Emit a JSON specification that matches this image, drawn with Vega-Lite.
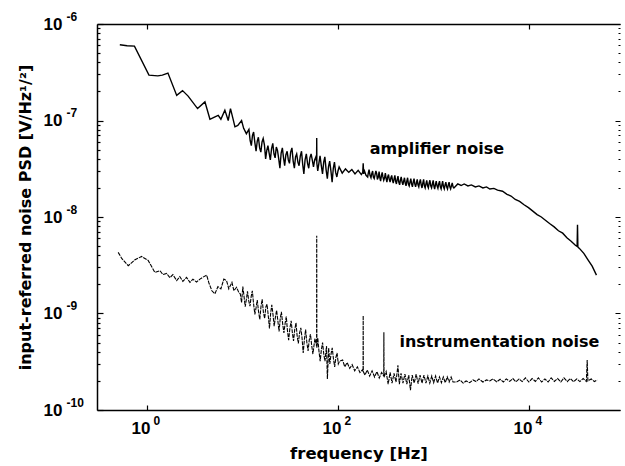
{
  "$schema": "https://vega.github.io/schema/vega-lite/v6.json",
  "width": 523,
  "height": 386,
  "autosize": {"type": "none"},
  "padding": {"left": 97, "top": 24, "right": 5, "bottom": 56},
  "background": "white",
  "config": {
    "view": {"stroke": null},
    "axis": {"domainColor": "black", "tickColor": "black", "labelColor": "black", "titleColor": "black", "grid": false, "labelFlush": false, "labelOverlap": false}
  },
  "datasets": {
    "amp": [
      {"f":0.52,"v":6.1e-7},{"f":0.62,"v":5.95e-7},{"f":0.74,"v":5.9e-7},{"f":1.05,"v":2.95e-7},{"f":1.3,"v":2.9e-7},{"f":1.45,"v":2.95e-7},{"f":1.66,"v":3.1e-7},{"f":2.05,"v":1.82e-7},{"f":2.36,"v":2.04e-7},{"f":2.7,"v":1.79e-7},{"f":3.39,"v":1.33e-7},{"f":4.05,"v":1.56e-7},{"f":4.57,"v":1.03e-7},{"f":5.03,"v":1.08e-7},{"f":5.58,"v":1.13e-7},{"f":5.95,"v":1.03e-7},{"f":6.55,"v":1.28e-7},{"f":7.1,"v":1.0e-7},{"f":7.5,"v":1.33e-7},{"f":7.95,"v":1.05e-7},{"f":8.35,"v":8.6e-8},{"f":8.95,"v":8.9e-8},{"f":9.8,"v":1.0e-7},{"f":10.3,"v":8.3e-8},{"f":11,"v":7.3e-8},
      {"f":11.7,"v":8.1e-8},{"f":12.05,"v":6.2e-8},{"f":12.4,"v":5.5e-8},{"f":12.75,"v":7.0e-8},{"f":13.1,"v":7.6e-8},{"f":13.5,"v":5.9e-8},{"f":13.9,"v":4.8e-8},{"f":14.3,"v":6.1e-8},{"f":14.7,"v":6.7e-8},{"f":15.15,"v":5.2e-8},{"f":15.6,"v":4.7e-8},{"f":16.05,"v":6.0e-8},{"f":16.5,"v":6.5e-8},{"f":17,"v":5.6e-8},{"f":17.5,"v":4.0e-8},{"f":18,"v":4.9e-8},{"f":18.5,"v":5.5e-8},{"f":19.05,"v":4.6e-8},{"f":19.6,"v":3.9e-8},{"f":20.2,"v":5.1e-8},{"f":20.8,"v":5.8e-8},{"f":21.4,"v":4.5e-8},{"f":22,"v":4.1e-8},{"f":22.65,"v":5.3e-8},{"f":23.3,"v":4.9e-8},{"f":24,"v":4.0e-8},{"f":24.7,"v":3.2e-8},{"f":25.45,"v":4.6e-8},{"f":26.2,"v":5.2e-8},{"f":26.95,"v":4.1e-8},{"f":27.7,"v":3.4e-8},{"f":28.5,"v":4.4e-8},{"f":29.4,"v":4.8e-8},{"f":30.25,"v":3.9e-8},{"f":31.1,"v":3.6e-8},{"f":32,"v":4.7e-8},{"f":33,"v":5.2e-8},{"f":34,"v":3.8e-8},{"f":35,"v":3.2e-8},{"f":36,"v":4.2e-8},{"f":37,"v":4.5e-8},{"f":38.1,"v":3.7e-8},{"f":39.2,"v":3.4e-8},{"f":40.4,"v":4.3e-8},{"f":41.6,"v":4.8e-8},{"f":42.8,"v":3.5e-8},{"f":44,"v":2.8e-8},{"f":45.3,"v":3.9e-8},{"f":46.7,"v":4.5e-8},{"f":48.1,"v":3.6e-8},{"f":49.5,"v":3.2e-8},{"f":50.9,"v":4.1e-8},{"f":52.4,"v":4.5e-8},{"f":53.9,"v":3.9e-8},{"f":55.5,"v":3.3e-8},{"f":57.1,"v":3.9e-8},{"f":58.8,"v":4.2e-8},{"f":59.8,"v":3.8e-8},{"f":60,"v":6.6e-8},{"f":60.2,"v":3.6e-8},{"f":61.5,"v":3.0e-8},{"f":63.2,"v":3.6e-8},{"f":65,"v":4.3e-8},{"f":67,"v":3.4e-8},{"f":69,"v":2.8e-8},{"f":71,"v":3.7e-8},{"f":73,"v":4.2e-8},{"f":75.2,"v":3.1e-8},{"f":77.5,"v":2.5e-8},{"f":79.7,"v":3.3e-8},{"f":82,"v":3.8e-8},{"f":84.5,"v":3.0e-8},{"f":87,"v":2.3e-8},{"f":89.5,"v":3.2e-8},{"f":92,"v":3.7e-8},{"f":94.7,"v":2.9e-8},{"f":97.5,"v":2.6e-8},{"f":100.2,"v":3.0e-8},
      {"f":103,"v":3.3e-8},{"f":111,"v":2.85e-8},{"f":120,"v":3.15e-8},{"f":130,"v":2.9e-8},{"f":140,"v":3.1e-8},{"f":151,"v":2.8e-8},{"f":163,"v":3.05e-8},{"f":176,"v":2.75e-8},{"f":182,"v":2.9e-8},{"f":184,"v":3.6e-8},{"f":186,"v":2.8e-8},
      {"f":190,"v":3.0e-8},{"f":197,"v":2.7e-8},{"f":205,"v":2.6e-8},{"f":208,"v":2.85e-8},{"f":212,"v":3.1e-8},{"f":217,"v":2.7e-8},{"f":222,"v":2.55e-8},{"f":226,"v":2.8e-8},{"f":231,"v":3.0e-8},{"f":235,"v":2.6e-8},{"f":240,"v":2.5e-8},{"f":245,"v":2.75e-8},{"f":250,"v":3.0e-8},{"f":255,"v":2.8e-8},{"f":259,"v":2.45e-8},{"f":265,"v":2.6e-8},{"f":270,"v":2.95e-8},{"f":275,"v":2.55e-8},{"f":280,"v":2.35e-8},{"f":286,"v":2.7e-8},{"f":291,"v":2.9e-8},{"f":296,"v":2.6e-8},{"f":302,"v":2.4e-8},{"f":308,"v":2.55e-8},{"f":314,"v":2.85e-8},{"f":320,"v":2.5e-8},{"f":326,"v":2.3e-8},{"f":332,"v":2.6e-8},{"f":339,"v":2.75e-8},{"f":345,"v":2.45e-8},{"f":352,"v":2.3e-8},{"f":359,"v":2.55e-8},{"f":366,"v":2.7e-8},{"f":373,"v":2.4e-8},{"f":380,"v":2.25e-8},{"f":388,"v":2.5e-8},{"f":395,"v":2.7e-8},{"f":402,"v":2.35e-8},{"f":410,"v":2.2e-8},{"f":418,"v":2.45e-8},{"f":426,"v":2.65e-8},{"f":434,"v":2.3e-8},{"f":443,"v":2.15e-8},{"f":451,"v":2.4e-8},{"f":460,"v":2.6e-8},{"f":470,"v":2.3e-8},{"f":479,"v":2.15e-8},{"f":488,"v":2.35e-8},{"f":498,"v":2.55e-8},{"f":507,"v":2.25e-8},{"f":517,"v":2.1e-8},{"f":527,"v":2.35e-8},{"f":537,"v":2.55e-8},{"f":547,"v":2.2e-8},{"f":558,"v":2.1e-8},{"f":569,"v":2.3e-8},{"f":580,"v":2.5e-8},{"f":591,"v":2.2e-8},{"f":603,"v":2.05e-8},{"f":615,"v":2.3e-8},{"f":627,"v":2.5e-8},{"f":639,"v":2.2e-8},{"f":651,"v":2.05e-8},{"f":664,"v":2.25e-8},{"f":677,"v":2.45e-8},{"f":690,"v":2.15e-8},{"f":703,"v":2.05e-8},{"f":717,"v":2.3e-8},{"f":731,"v":2.45e-8},{"f":745,"v":2.15e-8},{"f":760,"v":2.0e-8},{"f":775,"v":2.25e-8},{"f":790,"v":2.45e-8},{"f":805,"v":2.1e-8},{"f":820,"v":2.0e-8},{"f":836,"v":2.2e-8},{"f":852,"v":2.4e-8},{"f":869,"v":2.1e-8},{"f":886,"v":2.0e-8},{"f":903,"v":2.25e-8},{"f":920,"v":2.4e-8},{"f":938,"v":2.1e-8},{"f":957,"v":2.0e-8},{"f":976,"v":2.2e-8},{"f":995,"v":2.4e-8},{"f":1012,"v":2.1e-8},{"f":1030,"v":1.95e-8},{"f":1050,"v":2.15e-8},{"f":1070,"v":2.35e-8},{"f":1092,"v":2.1e-8},{"f":1115,"v":1.98e-8},{"f":1137,"v":2.2e-8},{"f":1160,"v":2.35e-8},{"f":1182,"v":2.05e-8},{"f":1205,"v":1.95e-8},{"f":1227,"v":2.15e-8},{"f":1250,"v":2.35e-8},{"f":1275,"v":2.05e-8},{"f":1300,"v":1.95e-8},{"f":1325,"v":2.15e-8},{"f":1350,"v":2.3e-8},{"f":1377,"v":2.05e-8},{"f":1405,"v":1.95e-8},{"f":1432,"v":2.15e-8},{"f":1460,"v":2.3e-8},{"f":1487,"v":2.05e-8},{"f":1515,"v":1.95e-8},{"f":1545,"v":2.1e-8},{"f":1575,"v":2.25e-8},{"f":1607,"v":2.05e-8},{"f":1640,"v":2.0e-8},
      {"f":1800,"v":2.2e-8},{"f":1950,"v":2.12e-8},{"f":2100,"v":2.2e-8},{"f":2300,"v":2.1e-8},{"f":2500,"v":2.15e-8},{"f":2750,"v":2.05e-8},{"f":3000,"v":2.1e-8},{"f":3300,"v":2.0e-8},{"f":3600,"v":2.05e-8},{"f":3900,"v":1.95e-8},{"f":4300,"v":1.98e-8},{"f":4700,"v":1.9e-8},{"f":5300,"v":1.85e-8},{"f":5900,"v":1.72e-8},{"f":6500,"v":1.65e-8},{"f":7200,"v":1.52e-8},{"f":8000,"v":1.45e-8},{"f":8900,"v":1.34e-8},{"f":9900,"v":1.25e-8},{"f":11000,"v":1.15e-8},{"f":12200,"v":1.06e-8},{"f":13500,"v":1.0e-8},{"f":15000,"v":9.2e-9},{"f":16600,"v":8.5e-9},{"f":18400,"v":7.9e-9},{"f":20400,"v":7.2e-9},{"f":22600,"v":6.8e-9},{"f":25000,"v":6.1e-9},{"f":27700,"v":5.6e-9},{"f":30700,"v":5.1e-9},{"f":32000,"v":4.95e-9},{"f":32300,"v":8.3e-9},{"f":32600,"v":4.9e-9},{"f":34000,"v":4.7e-9},{"f":37600,"v":4.2e-9},{"f":41600,"v":3.6e-9},{"f":46000,"v":3.1e-9},{"f":51000,"v":2.5e-9}
    ],
    "ins": [
      {"f":0.5,"v":4.3e-9},{"f":0.547,"v":3.7e-9},{"f":0.637,"v":3.13e-9},{"f":0.75,"v":3.6e-9},{"f":0.88,"v":3.9e-9},{"f":1.03,"v":3.55e-9},{"f":1.21,"v":2.67e-9},{"f":1.37,"v":2.78e-9},{"f":1.47,"v":2.53e-9},{"f":1.61,"v":2.6e-9},{"f":1.74,"v":2.35e-9},{"f":1.87,"v":2.53e-9},{"f":2.05,"v":2.19e-9},{"f":2.21,"v":2.41e-9},{"f":2.38,"v":2.15e-9},{"f":2.6,"v":2.37e-9},{"f":2.82,"v":2.1e-9},{"f":3.03,"v":2.27e-9},{"f":3.31,"v":2.12e-9},{"f":3.59,"v":2.27e-9},{"f":3.86,"v":2.38e-9},{"f":4.22,"v":2.5e-9},{"f":4.46,"v":2.07e-9},{"f":4.79,"v":1.72e-9},{"f":5.15,"v":1.6e-9},{"f":5.54,"v":1.9e-9},{"f":5.95,"v":1.8e-9},{"f":6.39,"v":2.27e-9},{"f":6.82,"v":2.19e-9},{"f":7.2,"v":1.8e-9},{"f":7.77,"v":2.1e-9},{"f":8.15,"v":1.72e-9},{"f":8.68,"v":1.87e-9},{"f":9.2,"v":1.64e-9},
      {"f":9.5,"v":1.6e-9},{"f":9.8,"v":1.3e-9},{"f":10.1,"v":1.9e-9},{"f":10.4,"v":1.5e-9},{"f":10.7,"v":1.18e-9},{"f":11,"v":1.4e-9},{"f":11.3,"v":1.7e-9},{"f":11.65,"v":1.35e-9},{"f":12,"v":1.19e-9},{"f":12.35,"v":1.5e-9},{"f":12.7,"v":1.72e-9},{"f":13.1,"v":1.25e-9},{"f":13.5,"v":9.8e-10},{"f":13.9,"v":1.15e-9},{"f":14.3,"v":1.38e-9},{"f":14.75,"v":1.05e-9},{"f":15.2,"v":8.7e-10},{"f":15.65,"v":1.18e-9},{"f":16.1,"v":1.4e-9},{"f":16.6,"v":1.02e-9},{"f":17.1,"v":8.9e-10},{"f":17.6,"v":1.17e-9},{"f":18.1,"v":1.25e-9},{"f":18.65,"v":9.5e-10},{"f":19.2,"v":7.0e-10},{"f":19.75,"v":1.0e-9},{"f":20.3,"v":1.23e-9},{"f":20.9,"v":9.8e-10},{"f":21.5,"v":7.4e-10},{"f":22.15,"v":9.1e-10},{"f":22.8,"v":1.08e-9},{"f":23.5,"v":8.4e-10},{"f":24.2,"v":6.5e-10},{"f":24.9,"v":8.9e-10},{"f":25.6,"v":1.04e-9},{"f":26.4,"v":7.8e-10},{"f":27.2,"v":6.3e-10},{"f":28,"v":7.9e-10},{"f":28.8,"v":9.3e-10},{"f":29.6,"v":6.7e-10},{"f":30.5,"v":5.3e-10},{"f":31.4,"v":7.0e-10},{"f":32.4,"v":8.4e-10},{"f":33.3,"v":6.4e-10},{"f":34.3,"v":5.2e-10},{"f":35.3,"v":6.8e-10},{"f":36.4,"v":8.0e-10},{"f":37.4,"v":5.9e-10},{"f":38.5,"v":4.9e-10},{"f":39.7,"v":6.3e-10},{"f":40.9,"v":7.1e-10},{"f":42.1,"v":5.6e-10},{"f":43.3,"v":3.9e-10},{"f":44.6,"v":5.4e-10},{"f":45.9,"v":6.8e-10},{"f":47.3,"v":5.0e-10},{"f":48.7,"v":4.1e-10},{"f":50.1,"v":5.3e-10},{"f":51.6,"v":6.1e-10},{"f":53.1,"v":4.7e-10},{"f":54.7,"v":3.8e-10},{"f":56.1,"v":4.6e-10},{"f":57.5,"v":5.5e-10},{"f":59.8,"v":4.6e-10},{"f":60,"v":6.4e-9},{"f":60.2,"v":4.4e-10},{"f":61.5,"v":5.6e-10},{"f":63.3,"v":4.1e-10},{"f":65.2,"v":3.2e-10},{"f":67.1,"v":4.2e-10},{"f":69.1,"v":5.0e-10},{"f":71.1,"v":3.8e-10},{"f":73.2,"v":3.2e-10},{"f":76,"v":4.6e-10},{"f":77.6,"v":2.1e-10},{"f":80,"v":4.4e-10},{"f":82.3,"v":3.0e-10},{"f":84.7,"v":3.8e-10},{"f":87.2,"v":4.4e-10},{"f":89.8,"v":3.4e-10},{"f":92.5,"v":2.8e-10},{"f":95.2,"v":3.5e-10},{"f":98,"v":3.9e-10},{"f":101,"v":3.0e-10},{"f":104,"v":3.2e-10},
      {"f":112,"v":3.3e-10},{"f":118,"v":2.8e-10},{"f":125,"v":3.1e-10},{"f":133,"v":2.7e-10},{"f":141,"v":2.95e-10},{"f":150,"v":2.55e-10},{"f":160,"v":2.8e-10},{"f":170,"v":2.45e-10},{"f":180,"v":2.6e-10},{"f":183.5,"v":2.5e-10},{"f":184,"v":9.5e-10},{"f":184.5,"v":2.5e-10},{"f":192,"v":2.3e-10},{"f":203,"v":2.6e-10},{"f":215,"v":2.25e-10},{"f":228,"v":2.55e-10},{"f":242,"v":2.2e-10},{"f":256,"v":2.5e-10},{"f":271,"v":2.15e-10},{"f":287,"v":2.45e-10},{"f":302,"v":2.25e-10},{"f":303,"v":6.4e-10},{"f":304,"v":2.2e-10},{"f":320,"v":2.5e-10},{"f":336,"v":1.85e-10},{"f":352,"v":2.45e-10},{"f":369,"v":1.9e-10},{"f":387,"v":2.4e-10},{"f":406,"v":1.95e-10},{"f":425,"v":2.9e-10},{"f":440,"v":1.85e-10},{"f":458,"v":2.4e-10},{"f":480,"v":1.9e-10},{"f":503,"v":2.35e-10},{"f":527,"v":1.85e-10},{"f":552,"v":2.3e-10},{"f":575,"v":1.6e-10},{"f":600,"v":2.3e-10},{"f":630,"v":1.9e-10},{"f":660,"v":2.35e-10},{"f":692,"v":1.88e-10},{"f":725,"v":2.3e-10},{"f":760,"v":1.9e-10},{"f":797,"v":2.3e-10},{"f":835,"v":1.9e-10},{"f":875,"v":2.25e-10},{"f":917,"v":1.9e-10},{"f":961,"v":2.25e-10},{"f":1007,"v":1.92e-10},{"f":1055,"v":2.25e-10},{"f":1105,"v":1.9e-10},{"f":1158,"v":2.2e-10},{"f":1213,"v":1.92e-10},{"f":1271,"v":2.2e-10},{"f":1332,"v":1.92e-10},{"f":1396,"v":2.2e-10},{"f":1463,"v":1.95e-10},{"f":1533,"v":2.2e-10},{"f":1606,"v":1.95e-10},
      {"f":1750,"v":1.95e-10},{"f":1900,"v":2.05e-10},{"f":2050,"v":1.9e-10},{"f":2200,"v":2.0e-10},{"f":2400,"v":1.92e-10},{"f":2600,"v":2.05e-10},{"f":2800,"v":1.97e-10},{"f":3000,"v":2.1e-10},{"f":3300,"v":1.95e-10},{"f":3600,"v":2.05e-10},{"f":3900,"v":2.0e-10},{"f":4200,"v":2.1e-10},{"f":4600,"v":1.96e-10},{"f":5000,"v":2.08e-10},{"f":5400,"v":1.95e-10},{"f":5800,"v":2.1e-10},{"f":6300,"v":1.98e-10},{"f":6800,"v":2.12e-10},{"f":7300,"v":1.96e-10},{"f":7900,"v":2.1e-10},{"f":8500,"v":1.97e-10},{"f":9200,"v":2.15e-10},{"f":10000,"v":1.95e-10},{"f":10800,"v":2.12e-10},{"f":11700,"v":1.98e-10},{"f":12600,"v":2.15e-10},{"f":13600,"v":1.95e-10},{"f":14700,"v":2.1e-10},{"f":15900,"v":1.95e-10},{"f":17100,"v":2.15e-10},{"f":18500,"v":1.98e-10},{"f":20000,"v":2.12e-10},{"f":21600,"v":1.95e-10},{"f":23300,"v":2.15e-10},{"f":25200,"v":1.97e-10},{"f":27200,"v":2.12e-10},{"f":29400,"v":1.96e-10},{"f":31700,"v":2.1e-10},{"f":34200,"v":1.97e-10},{"f":37000,"v":2.12e-10},{"f":40000,"v":1.98e-10},{"f":40800,"v":3.3e-10},{"f":41500,"v":2.0e-10},{"f":45000,"v":2.1e-10},{"f":48500,"v":1.97e-10},{"f":52000,"v":2.05e-10}
    ],
    "labels": [
      {"f":1089,"v":4.5e-8,"t":"amplifier noise"},
      {"f":4914,"v":4.55e-10,"t":"instrumentation noise"}
    ]
  },
  "layer": [
    {
      "data": {"name": "amp"},
      "mark": {"type": "line", "color": "black", "strokeWidth": 1.4},
      "encoding": {
        "x": {"field": "f", "type": "quantitative", "scale": {"type": "log", "domain": [0.3, 90000], "nice": false},
          "axis": {"orient": "bottom", "values": [1, 100, 10000], "labelExpr": "'10'", "ticks": false, "domain": true, "domainWidth": 1.5,
            "labelFont": "Liberation Sans", "labelFontSize": 17, "labelFontWeight": "bold", "labelAlign": "right", "labelBaseline": "top", "labelOffset": 3, "labelPadding": 10,
            "title": "frequency [Hz]", "titleFont": "DejaVu Sans", "titleFontSize": 16.5, "titleFontWeight": "bold", "titleX": 261.5, "titleY": 48, "titleBaseline": "alphabetic", "titleAlign": "center"}},
        "y": {"field": "v", "type": "quantitative", "scale": {"type": "log", "domain": [1e-10, 1e-6], "nice": false},
          "axis": {"orient": "left", "values": [1e-10, 1e-9, 1e-8, 1e-7, 1e-6], "labelExpr": "'10'", "ticks": false, "domain": true, "domainWidth": 1.5,
            "labelFont": "Liberation Sans", "labelFontSize": 17, "labelFontWeight": "bold", "labelAlign": "right", "labelBaseline": "middle", "labelPadding": 35,
            "title": "input-referred noise PSD [V/Hz¹/²]", "titleFont": "DejaVu Sans", "titleFontSize": 16, "titleFontWeight": "bold", "titleX": -67, "titleY": 193, "titleAngle": -90, "titleBaseline": "alphabetic", "titleAlign": "center"}}
      }
    },
    {
      "data": {"name": "ins"},
      "mark": {"type": "line", "color": "black", "strokeWidth": 1.1, "strokeDash": [4, 1]},
      "encoding": {
        "x": {"field": "f", "type": "quantitative",
          "axis": {"orient": "bottom", "values": [1, 100, 10000], "labelExpr": "'' + round(log(datum.value) / LN10)", "ticks": false, "domain": false,
            "labelFont": "Liberation Sans", "labelFontSize": 12, "labelFontWeight": "bold", "labelAlign": "left", "labelBaseline": "top", "labelOffset": 6, "labelPadding": 5, "title": null}},
        "y": {"field": "v", "type": "quantitative",
          "axis": {"orient": "left", "values": [1e-10, 1e-9, 1e-8, 1e-7, 1e-6], "labelExpr": "'' + round(log(datum.value) / LN10)", "ticks": false, "domain": false,
            "labelFont": "Liberation Sans", "labelFontSize": 12, "labelFontWeight": "bold", "labelAlign": "left", "labelBaseline": "middle", "labelPadding": 31, "labelOffset": -8, "title": null}}
      }
    },
    {
      "data": {"name": "labels"},
      "transform": [{"filter": "datum.t == 'amplifier noise'"}],
      "mark": {"type": "text", "font": "DejaVu Sans", "fontSize": 16, "fontWeight": "bold", "align": "center", "baseline": "alphabetic", "color": "black"},
      "encoding": {
        "x": {"field": "f", "type": "quantitative",
          "axis": {"orient": "top", "values": [1, 100, 10000], "labels": false, "domain": true, "domainWidth": 1.5, "ticks": true, "tickSize": -5, "tickWidth": 1.2, "title": null}},
        "y": {"field": "v", "type": "quantitative",
          "axis": {"orient": "left", "values": [1e-10,2e-10,3e-10,4e-10,5e-10,6e-10,7e-10,8e-10,9e-10,1e-9,2e-9,3e-9,4e-9,5e-9,6e-9,7e-9,8e-9,9e-9,1e-8,2e-8,3e-8,4e-8,5e-8,6e-8,7e-8,8e-8,9e-8,1e-7,2e-7,3e-7,4e-7,5e-7,6e-7,7e-7,8e-7,9e-7,1e-6],
            "labels": false, "domain": false, "ticks": true, "tickWidth": 1.2, "tickSize": {"condition": {"test": "indexof([1e-10,1e-9,1e-8,1e-7,1e-6], datum.value) >= 0", "value": -6}, "value": -3}, "title": null}},
        "text": {"field": "t", "type": "nominal"}
      }
    },
    {
      "data": {"name": "labels"},
      "transform": [{"filter": "datum.t == 'instrumentation noise'"}],
      "mark": {"type": "text", "font": "DejaVu Sans", "fontSize": 16, "fontWeight": "bold", "align": "center", "baseline": "alphabetic", "color": "black"},
      "encoding": {
        "x": {"field": "f", "type": "quantitative",
          "axis": {"orient": "bottom", "values": [1, 100, 10000], "labels": false, "domain": false, "ticks": true, "tickSize": -5, "tickWidth": 1.2, "title": null}},
        "y": {"field": "v", "type": "quantitative",
          "axis": {"orient": "right", "values": [1e-10,2e-10,3e-10,4e-10,5e-10,6e-10,7e-10,8e-10,9e-10,1e-9,2e-9,3e-9,4e-9,5e-9,6e-9,7e-9,8e-9,9e-9,1e-8,2e-8,3e-8,4e-8,5e-8,6e-8,7e-8,8e-8,9e-8,1e-7,2e-7,3e-7,4e-7,5e-7,6e-7,7e-7,8e-7,9e-7,1e-6],
            "labels": false, "domain": false, "ticks": true, "tickWidth": 1, "tickSize": {"condition": {"test": "indexof([1e-10,1e-9,1e-8,1e-7,1e-6], datum.value) >= 0", "value": -5}, "value": -2}, "title": null}},
        "text": {"field": "t", "type": "nominal"}
      }
    }
  ],
  "resolve": {"axis": {"x": "independent", "y": "independent"}}
}
